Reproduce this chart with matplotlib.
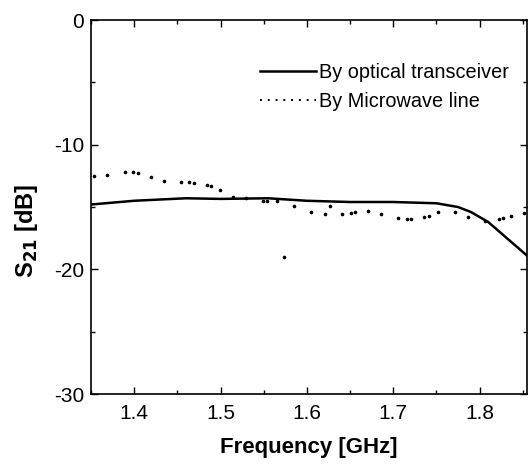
import matplotlib
matplotlib.use("Agg")
import matplotlib.pyplot as plt
from matplotlib.lines import Line2D
from matplotlib.ticker import MultipleLocator

plt.rcParams['font.family'] = ['Liberation Sans', 'DejaVu Sans']
plt.rcParams['axes.unicode_minus'] = False

# optical transceiver (solid curve)
freq_opt = [1.35, 1.40, 1.46, 1.50, 1.555, 1.60, 1.65, 1.70, 1.75, 1.775, 1.79, 1.81, 1.83, 1.855]
s21_opt = [-14.8, -14.5, -14.3, -14.35, -14.3, -14.5, -14.6, -14.6, -14.7, -15.0, -15.4, -16.2, -17.4, -18.9]

# microwave line (dotted points)
freq_mw = [1.353, 1.369, 1.389, 1.399, 1.404, 1.419, 1.434, 1.454, 1.464, 1.469, 1.484, 1.489,
           1.499, 1.515, 1.530, 1.549, 1.554, 1.565, 1.574, 1.585, 1.605, 1.621, 1.627, 1.641,
           1.651, 1.656, 1.671, 1.686, 1.706, 1.716, 1.721, 1.736, 1.741, 1.752, 1.772, 1.787,
           1.806, 1.822, 1.827, 1.837, 1.852]
s21_mw = [-12.5, -12.4, -12.2, -12.2, -12.3, -12.6, -12.9, -13.0, -13.0, -13.1, -13.2, -13.3,
          -13.6, -14.2, -14.3, -14.5, -14.5, -14.5, -19.0, -14.9, -15.4, -15.6, -14.9, -15.6,
          -15.5, -15.4, -15.3, -15.6, -15.9, -16.0, -16.0, -15.8, -15.7, -15.4, -15.4, -15.8,
          -16.1, -16.0, -15.9, -15.7, -15.5]

fig = plt.figure(figsize=(5.28, 4.74), dpi=100)
ax = fig.add_axes([91/528, 1-394/474, 436/528, 374/474])

ax.plot(freq_opt, s21_opt, color='black', lw=1.8)
ax.plot(freq_mw, s21_mw, ls='none', marker='o', ms=1.6, color='black')

ax.set_xlim(1.35, 1.855)
ax.set_ylim(-30, 0)
ax.xaxis.set_major_locator(MultipleLocator(0.1))
ax.xaxis.set_minor_locator(MultipleLocator(0.05))
ax.yaxis.set_major_locator(MultipleLocator(10))
ax.yaxis.set_minor_locator(MultipleLocator(5))
ax.tick_params(which='both', direction='in', top=True, right=True, labelsize=15, width=1)
ax.tick_params(axis='x', pad=7)
ax.tick_params(axis='y', pad=5)
ax.tick_params(which='major', length=5)
ax.tick_params(which='minor', length=3)
for s in ax.spines.values():
    s.set_linewidth(1.2)

ax.set_xlabel('Frequency [GHz]', fontsize=16, fontweight='bold', labelpad=10)
ax.set_ylabel('S$_{\\mathbf{21}}$ [dB]', fontsize=17, fontweight='bold')
ax.yaxis.set_label_coords(-0.117, 0.436)

handles = [Line2D([], [], color='black', lw=1.8),
           Line2D([], [], color='black', lw=1.4, ls=(0, (1, 3)))]
ax.legend(handles, ['By optical transceiver', 'By Microwave line'], loc='upper left',
          bbox_to_anchor=(0.388, 0.885), frameon=False, fontsize=14.3, handlelength=2.8,
          handletextpad=0.15, labelspacing=0.5, borderpad=0, borderaxespad=0)

fig.savefig('out.png', dpi=100)
